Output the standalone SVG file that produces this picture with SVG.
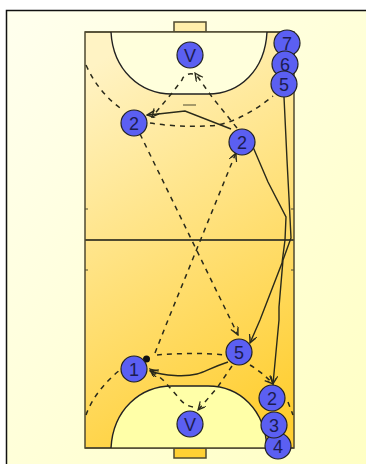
<svg xmlns="http://www.w3.org/2000/svg" width="366" height="464" viewBox="0 0 366 464">
<style>
.p{fill:#5b5ff2;stroke:#222;stroke-width:1.200}
.t{font:18px "Liberation Sans",Arial,sans-serif;fill:#1c1c50;text-anchor:middle}
.s{fill:none;stroke:#2a2a1a;stroke-width:1.400}
.d{fill:none;stroke:#2a2a1a;stroke-width:1.500;stroke-dasharray:5 5}
.c{stroke:#4f4a30;stroke-width:1.500}
</style>
<defs>
<linearGradient id="bg" x1="0" y1="0" x2="1" y2="1"><stop offset="0" stop-color="#ffffee"/><stop offset="1" stop-color="#ffffc4"/></linearGradient>
<linearGradient id="court" gradientUnits="userSpaceOnUse" x1="85" y1="70" x2="294" y2="410"><stop offset="0" stop-color="#fff3c4"/><stop offset="1" stop-color="#ffce30"/></linearGradient>
<marker id="ah" markerWidth="10" markerHeight="10" refX="9" refY="4" orient="auto" markerUnits="userSpaceOnUse"><path d="M1,0L9,4L1,8M3,1.500L9,4L3,6.500" fill="none" stroke="#2a2a1a" stroke-width="1.200"/></marker>
</defs>
<rect width="366" height="464" fill="#fff"/>
<path d="M7,464V11H366V464Z" fill="url(#bg)"/>
<path d="M6.500,464V10.500H366" fill="none" stroke="#111" stroke-width="1.500"/>
<g id="court-shapes">
<rect x="174" y="22" width="32" height="10" fill="#ffeeaa" class="c"/>
<rect x="174" y="448" width="32" height="10" fill="#ffd033" class="c"/>
<rect x="85" y="32" width="209" height="416" fill="url(#court)" class="c"/>
<path d="M111,32C113,70 140,94 172,94H208C240,94 265,70 267,32Z" fill="#ffffdc"/>
<path d="M111,448C113,410 140,386 172,386H208C240,386 265,410 267,448Z" fill="#ffffa8"/>
<path d="M85,32H294M85,448H294" stroke="#4f4a30" stroke-width="1.500"/>
<path d="M111,32C113,70 140,94 172,94H208C240,94 265,70 267,32M111,448C113,410 140,386 172,386H208C240,386 265,410 267,448" fill="none" stroke="#222" stroke-width="1.400"/>
<path d="M85,240H294" stroke="#4f4a30" stroke-width="1.800"/>
<path d="M85,209H88M85,270H88M291,209H294M291,270H294M183,105H196" stroke="#4f4a30" stroke-width="1.200"/>
</g>
<g id="connectors">
<path class="d" d="M86,65C95,85 108,100 123,110"/>
<path class="d" d="M150,123C175,127 205,127 218,125C240,120 258,108 273,96"/>
<path class="d" d="M86,415C92,398 105,382 120,370"/>
<path class="d" d="M157,355C180,353 205,353 226,355"/>
<path class="d" d="M288,402L293,415"/>
<path class="d" d="M250,365C258,370 266,376 273,384" marker-end="url(#ah)"/>
<path class="s" d="M284,97L287,160L289,198L291,238L283,260L279,307L279,320L273,384" marker-end="url(#ah)"/>
<path class="s" d="M253,147L268,182L286,217L285,240L282,263L260,320L250,343" marker-end="url(#ah)"/>
<path class="s" d="M231,129L185,111L158,114L147,115" marker-end="url(#ah)"/>
<path class="s" d="M228,362C210,368 205,372 197,374C185,377 165,376 150,371" marker-end="url(#ah)"/>
<path class="d" d="M237,128L212,97L195,73" marker-end="url(#ah)"/>
<path class="d" d="M193,74C186,73 183,77 182,80L172,93L152,117" marker-end="url(#ah)"/>
<path class="d" d="M232,366L217,388L198,410" marker-end="url(#ah)"/>
<path class="d" d="M193,407C186,406 182,402 178,397L163,380L150,369" marker-end="url(#ah)"/>
<path class="d" d="M140,134L238,335" marker-end="url(#ah)"/>
<path class="d" d="M155,353L168,320L233,160L236,153" marker-end="url(#ah)"/>
</g>
<g id="ball"><circle cx="146.500" cy="359" r="3.500" fill="#111"/></g>
<g id="p7"><circle class="p" cx="287" cy="43" r="13"/><text class="t" x="287" y="49.500">7</text></g>
<g id="p6"><circle class="p" cx="285" cy="64" r="13"/><text class="t" x="285" y="70.500">6</text></g>
<g id="p5a"><circle class="p" cx="284" cy="84" r="13"/><text class="t" x="284" y="90.500">5</text></g>
<g id="vtop"><circle class="p" cx="190" cy="55" r="13"/><text class="t" x="190" y="61.500">V</text></g>
<g id="p2a"><circle class="p" cx="134" cy="123" r="13"/><text class="t" x="134" y="129.500">2</text></g>
<g id="p2b"><circle class="p" cx="242" cy="142" r="13"/><text class="t" x="242" y="148.500">2</text></g>
<g id="p5b"><circle class="p" cx="239" cy="352" r="13"/><text class="t" x="239" y="358.500">5</text></g>
<g id="p1"><circle class="p" cx="134" cy="369" r="13"/><text class="t" x="134" y="375.500">1</text></g>
<g id="vbot"><circle class="p" cx="190" cy="424" r="13"/><text class="t" x="190" y="430.500">V</text></g>
<g id="p4"><circle class="p" cx="278" cy="446" r="13"/><text class="t" x="278" y="452.500">4</text></g>
<g id="p3"><circle class="p" cx="274" cy="425" r="13"/><text class="t" x="274" y="431.500">3</text></g>
<g id="p2c"><circle class="p" cx="272" cy="398" r="13"/><text class="t" x="272" y="404.500">2</text></g>
</svg>
